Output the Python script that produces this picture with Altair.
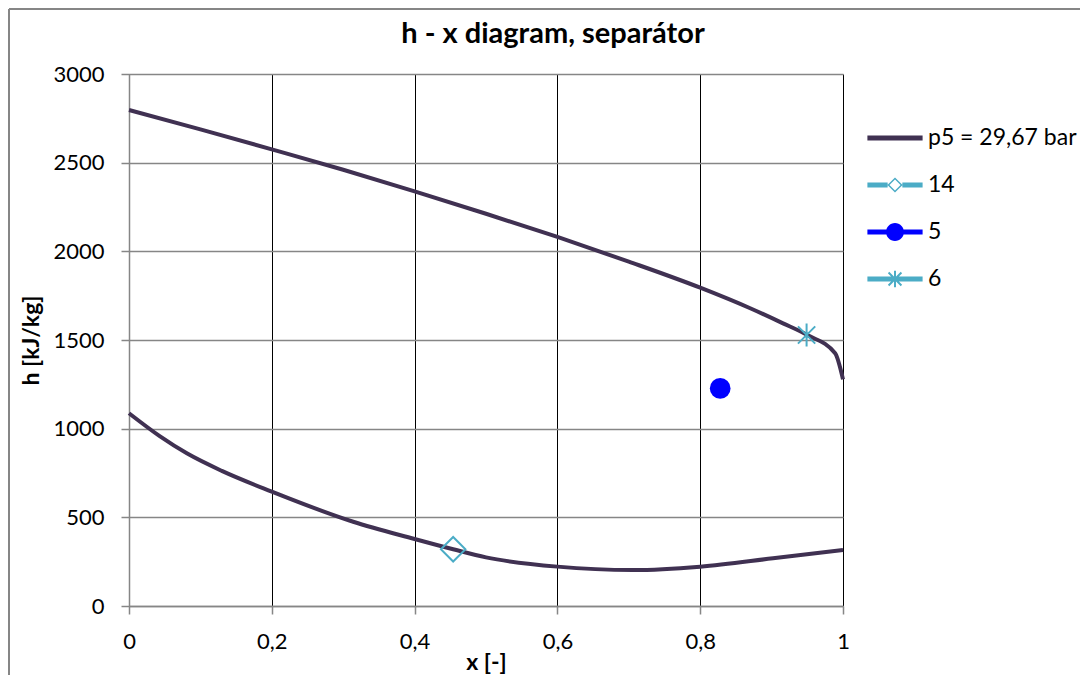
import altair as alt
import pandas as pd

# ---- data ----
upper_x = [0.0, 0.1, 0.2, 0.3, 0.4, 0.5, 0.6, 0.7, 0.8, 0.87, 0.916, 0.95, 0.989, 1.0]
upper_h = [2797, 2688, 2575, 2460, 2338, 2212, 2081, 1942, 1795, 1679, 1594, 1528, 1425, 1278]
lower_x = [0.0, 0.043, 0.081, 0.13, 0.2, 0.314, 0.4, 0.454, 0.5, 0.6, 0.706, 0.8, 0.902, 1.0]
lower_h = [1087, 958, 861, 762, 645, 475, 378, 320, 274, 222, 203, 222, 269, 316]

series_names = ["p5 = 29,67 bar", "14", "5", "6"]
series_colors = ["#403152", "#4BACC6", "#0000FF", "#4BACC6"]
pt14 = (0.454, 320)
pt5 = (0.828, 1227)
pt6 = (0.949, 1528)

x_ticks = [0, 0.2, 0.4, 0.6, 0.8, 1]
y_ticks = [0, 500, 1000, 1500, 2000, 2500, 3000]

FONT = "Lato"
LINE_COLOR = "#403152"
TEAL = "#4BACC6"
BLUE = "#0000FF"
GRAY = "#868686"

curve = pd.DataFrame({
    "x": upper_x + lower_x,
    "h": upper_h + lower_h,
    "branch": ["upper"] * len(upper_x) + ["lower"] * len(lower_x),
})

legend_df = pd.DataFrame({
    "series": series_names,
    "x": [upper_x[0], pt14[0], pt5[0], pt6[0]],
    "h": [upper_h[0], pt14[1], pt5[1], pt6[1]],
})

# ---- legend symbol paths (line + marker, filled) ----
LINE = "M-1.2,-0.11H1.2V0.11H-1.2Z"
sym_p5 = LINE
sym_14 = ("M-1.2,-0.11H-0.32V0.11H-1.2Z M0.32,-0.11H1.2V0.11H0.32Z "
          "M0,-0.33L0.33,0L0,0.33L-0.33,0Z M0,-0.24L-0.24,0L0,0.24L0.24,0Z")
sym_5 = LINE + " M-0.39,0A0.39,0.39,0,1,1,0.39,0A0.39,0.39,0,1,1,-0.39,0Z"
sym_6 = (LINE + " M-0.043,-0.36H0.043V0.36H-0.043Z"
         " M-0.25,-0.31L0.31,0.25L0.25,0.31L-0.31,-0.25Z"
         " M-0.25,0.31L-0.31,0.25L0.25,-0.31L0.31,-0.25Z")
ASTERISK = "M0,-1L0,1M-0.75,-0.75L0.75,0.75M-0.75,0.75L0.75,-0.75"

x_enc = alt.X("x:Q", scale=alt.Scale(domain=[0, 1], nice=False),
              axis=alt.Axis(values=x_ticks, title="x [-]", labelFlush=False,
                            labelExpr="replace(format(datum.value, '~g'), '.', ',')",
                            gridColor="black", gridWidth=1,
                            titleY=56, titleBaseline="middle"))
y_enc = alt.Y("h:Q", scale=alt.Scale(domain=[0, 3000], nice=False),
              axis=alt.Axis(values=y_ticks, title="h [kJ/kg]", format="d",
                            gridColor=GRAY, gridWidth=1.5,
                            titleX=-98, titleBaseline="middle"))

one = alt.Data(values=[{}])
border_left = alt.Chart(one).mark_rule(color=GRAY, strokeWidth=2).encode(
    x=alt.value(-120), y=alt.value(-65), y2=alt.value(610))
border_top = alt.Chart(one).mark_rule(color=GRAY, strokeWidth=2).encode(
    x=alt.value(-120), x2=alt.value(980), y=alt.value(-65))

line = alt.Chart(curve).mark_line(color=LINE_COLOR, strokeWidth=4,
                                  interpolate="monotone").encode(
    x=x_enc, y=y_enc, detail="branch:N")

m14 = alt.Chart(pd.DataFrame({"x": [pt14[0]], "h": [pt14[1]]})).mark_point(
    shape="diamond", size=600, filled=False, color=TEAL, strokeWidth=2, opacity=1
).encode(x="x:Q", y="h:Q")
m5 = alt.Chart(pd.DataFrame({"x": [pt5[0]], "h": [pt5[1]]})).mark_point(
    shape="circle", size=430, filled=True, color=BLUE, opacity=1
).encode(x="x:Q", y="h:Q")
m6 = alt.Chart(pd.DataFrame({"x": [pt6[0]], "h": [pt6[1]]})).mark_point(
    shape=ASTERISK, size=530, filled=False, color=TEAL, strokeWidth=2, opacity=1
).encode(x="x:Q", y="h:Q")

leg = alt.Legend(title=None, orient="none", legendX=743, legendY=41,
                 symbolSize=2116, labelFont=FONT, labelFontSize=23,
                 labelColor="black", labelOffset=10, rowPadding=12, padding=0,
                 symbolOpacity=1, symbolStrokeWidth=0, labelLimit=400)
carrier = alt.Chart(legend_df).mark_point(filled=True, opacity=0).encode(
    x="x:Q", y="h:Q",
    color=alt.Color("series:N", scale=alt.Scale(domain=series_names, range=series_colors),
                    legend=leg),
    shape=alt.Shape("series:N", scale=alt.Scale(domain=series_names,
                                                range=[sym_p5, sym_14, sym_5, sym_6]),
                    legend=leg),
)

chart = alt.layer(border_left, border_top, line, m14, m5, m6, carrier).properties(
    width=714, height=532,
    autosize=alt.AutoSizeParams(type="none"),
    padding={"left": 121, "top": 66, "right": 237, "bottom": 69},
    title=alt.TitleParams("h - x diagram, separátor", font=FONT, fontSize=29,
                          fontWeight="bold", color="black", anchor="middle",
                          dx=67, baseline="alphabetic", offset=-64),
).configure(background="white").configure_view(stroke="transparent").configure_axis(
    labelFont=FONT, labelFontSize=22, labelColor="black",
    titleFont=FONT, titleFontSize=23, titleFontWeight="bold", titleColor="black",
    domainColor=GRAY, domainWidth=1.5, tickColor=GRAY, tickWidth=1.5, tickSize=8,
    labelPadding=17,
)

chart.save("out.html", embed_options={"renderer": "svg", "actions": False})
